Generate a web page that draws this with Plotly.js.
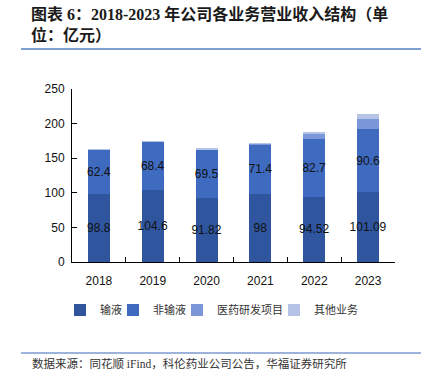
<!DOCTYPE html>
<html>
<head>
<meta charset="utf-8">
<script src="https://cdn.plot.ly/plotly-3.0.1.min.js"></script>
<style>html,body{margin:0;padding:0;background:#fff;}#chart{width:427px;height:383px;}</style>
</head>
<body>
<div id="chart"></div>
<script>
const years = ['2018', '2019', '2020', '2021', '2022', '2023'];
const infusion = [98.8, 104.6, 91.82, 98, 94.52, 101.09];
const nonInfusion = [62.4, 68.4, 69.5, 71.4, 82.7, 90.6];
const rdProjects = [0.3, 0.3, 0.5, 0.6, 7.3, 14.8];
const otherBiz = [1.9, 1.8, 2.5, 2.1, 3.8, 7.6];
const seriesNames = ['输液', '非输液', '医药研发项目', '其他业务'];
const yTicks = [0, 50, 100, 150, 200, 250];

const colors = ['#2F559F', '#3E6AC0', '#7C97D7', '#B5C3E7'];
const labelFont = {family: 'Liberation Sans, Arial, sans-serif', size: 12, color: '#111'};
const legendIds = ['legend', 'legend2', 'legend3', 'legend4'];

function barTrace(i, vals, withText) {
  const t = {
    type: 'bar', name: seriesNames[i], x: years, y: vals,
    marker: {color: colors[i], line: {width: 0}},
    legend: legendIds[i],
    hoverinfo: 'none'
  };
  if (withText) {
    t.text = vals.map(v => String(v));
    t.textposition = 'inside';
    t.insidetextanchor = 'middle';
    t.constraintext = 'none';
    t.textangle = 0;
    t.textfont = labelFont;
  } else {
    t.textposition = 'none';
  }
  return t;
}

const data = [
  barTrace(0, infusion, true),
  barTrace(1, nonInfusion, true),
  barTrace(2, rdProjects, false),
  barTrace(3, otherBiz, false)
];

const L = 72, R = 395, T = 89, B = 262;
const W = R - L, H = B - T;
const px = x => (x - L) / W;
const py = y => (B - y) / H;

const legendLeft = [60, 113, 177, 274];
function legendObj(i) {
  return {
    orientation: 'h', x: px(legendLeft[i]), y: py(310), xanchor: 'left', yanchor: 'middle',
    font: {family: 'Noto Sans CJK SC, sans-serif', size: 11, color: '#333'},
    itemwidth: 30, bgcolor: 'rgba(0,0,0,0)', borderwidth: 0
  };
}

const layout = {
  width: 427, height: 383,
  margin: {l: L, r: 427 - R, t: T, b: 383 - B, pad: 0},
  paper_bgcolor: '#fff', plot_bgcolor: '#fff',
  barmode: 'stack',
  bargap: 0.59,
  showlegend: true,
  legend: legendObj(0), legend2: legendObj(1), legend3: legendObj(2), legend4: legendObj(3),
  xaxis: {
    type: 'category', range: [-0.5, 5.5],
    showline: true, linecolor: '#000', linewidth: 1,
    ticks: 'inside', tickson: 'boundaries', ticklen: 5, tickcolor: '#000',
    tickfont: {family: 'Liberation Sans, Arial, sans-serif', size: 12, color: '#111'},
    ticklabelstandoff: 8,
    showgrid: false, zeroline: false, fixedrange: true
  },
  yaxis: {
    range: [0, 250], tickvals: yTicks, ticktext: yTicks.map(String),
    showline: true, linecolor: '#000', linewidth: 1,
    ticks: 'inside', ticklen: 5, tickcolor: '#000',
    tickfont: {family: 'Liberation Sans, Arial, sans-serif', size: 12, color: '#111'},
    ticklabelstandoff: 4,
    showgrid: false, zeroline: false, fixedrange: true
  },
  annotations: [
    {
      xref: 'paper', yref: 'paper', x: px(29), y: py(3), xanchor: 'left', yanchor: 'top',
      align: 'left', showarrow: false,
      text: '<b>图表 6：2018-2023 年公司各业务营业收入结构（单</b><br><b>位：亿元）</b>',
      font: {family: 'Liberation Serif, Noto Sans CJK SC, serif', size: 16, color: '#1a1a1a'}
    },
    {
      xref: 'paper', yref: 'paper', x: px(30), y: py(363), xanchor: 'left', yanchor: 'middle',
      showarrow: false,
      text: '数据来源：同花顺 iFind，科伦药业公司公告，华福证券研究所',
      font: {family: 'Liberation Serif, Noto Sans CJK SC, serif', size: 11.5, color: '#333'}
    }
  ],
  shapes: [
    {type: 'line', xref: 'paper', yref: 'paper', x0: px(21), x1: px(421), y0: py(49), y1: py(49),
     line: {color: '#7E9FD2', width: 2}},
    {type: 'line', xref: 'paper', yref: 'paper', x0: px(21), x1: px(421), y0: py(353), y1: py(353),
     line: {color: '#9DB3D9', width: 2}}
  ]
};

Plotly.newPlot('chart', data, layout, {displayModeBar: false, staticPlot: true});
</script>
</body>
</html>
